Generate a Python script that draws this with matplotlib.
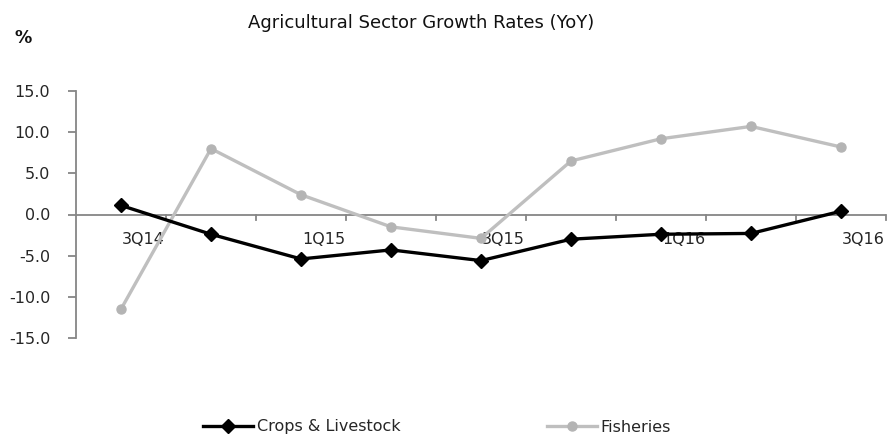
import matplotlib
matplotlib.use("Agg")
import matplotlib.pyplot as plt
import numpy as np

categories = ["3Q14", "4Q14", "1Q15", "2Q15", "3Q15", "4Q15", "1Q16", "2Q16", "3Q16"]
crops_livestock = [1.1, -2.4, -5.4, -4.3, -5.6, -3.0, -2.4, -2.3, 0.4]
fisheries = [-11.5, 8.0, 2.4, -1.5, -2.9, 6.5, 9.2, 10.7, 8.2]
ytick_values = [-15.0, -10.0, -5.0, 0.0, 5.0, 10.0, 15.0]
title = "Agricultural Sector Growth Rates (YoY)"

plt.rcParams['font.family'] = ['DejaVu Sans']

fig = plt.figure(figsize=(8.88, 4.38), dpi=100)
ax = fig.add_axes([76/888, 1 - 338/438, (886 - 76)/888, (338 - 91)/438])

x = np.arange(len(categories))
axis_gray = "#868686"
text_col = "#262626"
fs = 11.5

l_c, = ax.plot(x, crops_livestock, color="black", lw=2.4, marker="D", ms=7.5,
               mfc="black", mec="black", label="Crops & Livestock", zorder=4)
l_f, = ax.plot(x, fisheries, color="#BFBFBF", lw=2.4, marker="o", ms=6.5,
               mfc="#B4B4B4", mec="#B4B4B4", label="Fisheries", zorder=3)

ax.set_xlim(-0.5, len(categories) - 0.5)
ax.set_ylim(-15, 15)
ax.set_yticks(ytick_values)
ax.set_yticklabels([f"{v:.1f}" for v in ytick_values], fontsize=fs, color=text_col)

for s in ["top", "right", "bottom"]:
    ax.spines[s].set_visible(False)
ax.spines["left"].set_color(axis_gray)
ax.spines["left"].set_linewidth(1.3)
ax.tick_params(axis="y", direction="out", length=5.5, color=axis_gray, width=1.3, pad=13)

# horizontal category axis at y=0
ax.axhline(0, color=axis_gray, lw=1.3, zorder=2)
ax.set_xticks([])
for b in np.arange(0.5, len(categories), 1.0):
    ax.plot([b, b], [0, -0.7], color=axis_gray, lw=1.3, zorder=2, clip_on=False)

for i, lab in enumerate(categories):
    if i % 2 == 0:
        ax.text(i + 0.25, -2.1, lab, ha="center", va="top", fontsize=fs, color=text_col, zorder=1)

fig.text(421/888, 1 - 28/438, title, ha="center", va="baseline", fontsize=13, color="#111111")
fig.text(23/888, 1 - 38/438, "%", ha="center", va="center", fontsize=12.5, fontweight="bold", color="#111111")

leg = fig.legend([l_c, l_f], ["Crops & Livestock", "Fisheries"], loc="center left",
                 bbox_to_anchor=(203/888, 1 - 427/438), ncol=2,
                 frameon=False, fontsize=fs, handlelength=3.1, handletextpad=0.25,
                 columnspacing=9.2, borderpad=0, borderaxespad=0)
for t in leg.get_texts():
    t.set_color(text_col)

fig.savefig("out.png", dpi=100)
